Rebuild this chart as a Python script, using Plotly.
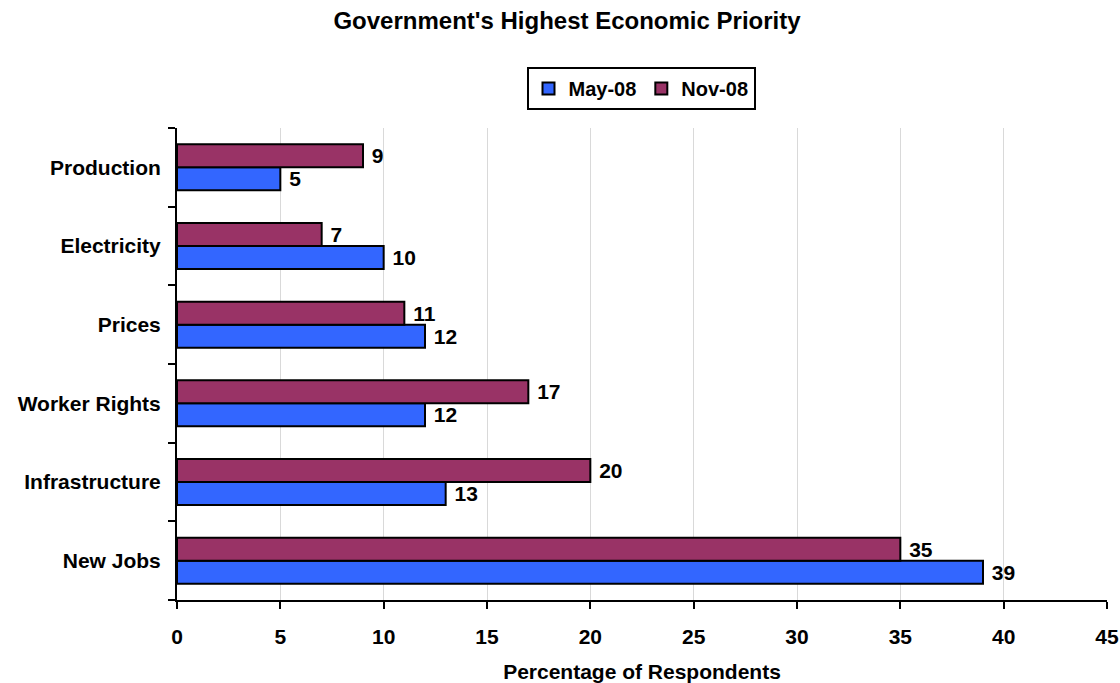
import plotly.graph_objects as go

categories = ["New Jobs", "Infrastructure", "Worker Rights", "Prices", "Electricity", "Production"]
may_08 = [39, 13, 12, 12, 10, 5]
nov_08 = [35, 20, 17, 11, 7, 9]
x_ticks = [0, 5, 10, 15, 20, 25, 30, 35, 40, 45]

font_family = "Liberation Sans, Arial, sans-serif"
label_font = dict(family=font_family, size=21, color="black", weight="bold")

fig = go.Figure()
fig.add_trace(go.Bar(
    y=categories, x=may_08, name="May-08", orientation="h",
    marker=dict(color="#3366FF", line=dict(color="black", width=2)),
    text=may_08, texttemplate=" %{x}", textposition="outside", cliponaxis=False,
    textfont=label_font,
))
fig.add_trace(go.Bar(
    y=categories, x=nov_08, name="Nov-08", orientation="h",
    marker=dict(color="#993366", line=dict(color="black", width=2)),
    text=nov_08, texttemplate=" %{x}", textposition="outside", cliponaxis=False,
    textfont=label_font,
))

fig.update_layout(
    width=1120, height=683,
    margin=dict(l=177, r=13, t=128, b=83, autoexpand=False),
    paper_bgcolor="white", plot_bgcolor="white",
    barmode="group", bargap=0.415, bargroupgap=0,
    font=dict(family=font_family, color="black"),
    title=dict(text="<b>Government's Highest Economic Priority</b>",
               x=567 / 1120, xanchor="center", xref="container",
               y=1 - 21 / 683, yanchor="middle", yref="container",
               font=dict(size=24, color="black")),
    legend=dict(orientation="h", x=641 / 1120, xanchor="center", xref="container",
                y=1 - 67 / 683, yanchor="top", yref="container",
                bordercolor="black", borderwidth=2,
                font=dict(size=20, weight="bold"),
                itemwidth=30, traceorder="normal"),
    showlegend=True,
)
fig.update_xaxes(
    range=[0, 45], tickvals=x_ticks, showgrid=True, gridcolor="#d9d9d9", gridwidth=1,
    showline=True, linecolor="black", linewidth=2,
    ticks="outside", ticklen=7, tickwidth=2, tickcolor="black",
    tickfont=dict(size=21, weight="bold"),
    ticklabelstandoff=10,
    title=dict(text="<b>Percentage of Respondents</b>", font=dict(size=21), standoff=26),
    zeroline=False, automargin=False,
)
fig.update_yaxes(
    categoryorder="array", categoryarray=categories,
    showgrid=False, showline=True, linecolor="black", linewidth=2,
    ticks="outside", ticklen=7, tickwidth=2, tickcolor="black",
    tickson="boundaries",
    tickfont=dict(size=21, weight="bold"),
    ticklabelstandoff=10, automargin=False,
)

fig.write_html("out.html")
